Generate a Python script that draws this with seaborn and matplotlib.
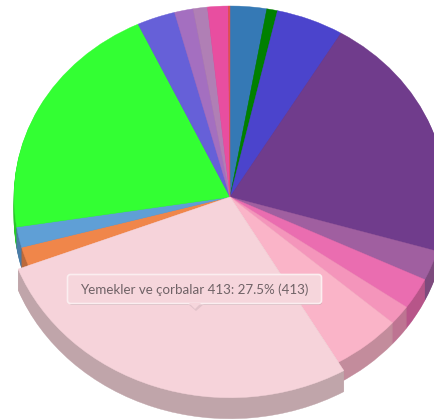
import numpy as np
import matplotlib
matplotlib.use('Agg')
from matplotlib import pyplot as plt
from matplotlib.patches import FancyBboxPatch, Polygon
import seaborn as sns

# slice counts, clockwise from the top of the pie
labels = ['Mavi', 'Yesil', 'Indigo', 'Mor', 'Leylak', 'Pembe', 'Acik pembe', 'Toz pembe',
          'Yemekler ve çorbalar', 'Turuncu', 'Acik mavi', 'Parlak yesil', 'Lacivert',
          'Eflatun', 'Gul', 'Fusya', 'Kirmizi']
values = [41, 12, 76, 315, 38, 40, 25, 78, 413, 24, 26, 308, 43, 21, 16, 23, 2]
colors = ['#3579b5', '#008000', '#4b44cc', '#703c8c', '#a05fa0', '#ea6db0', '#f495bb', '#fab4c8',
          '#f6d3da', '#f0864a', '#5f9fd6', '#33ff33', '#6660d8', '#a46fc0', '#b07fb5', '#e84ea0', '#e05050']
tooltip = 'Yemekler ve çorbalar 413: 27.5% (413)'
hover = labels.index('Yemekler ve çorbalar')

W, H = 434, 419
cx, cy = 230, 197
rx, ry = 216, 191
hover_r = 227
depth = 21
squash = rx / ry  # y data units per pixel, makes the round pie an ellipse

sns.set_theme(style='white')
plt.rcParams['font.family'] = ['Lato', 'DejaVu Sans']

palette = sns.color_palette(colors)
dark = [tuple(np.array(c) * 0.78) for c in palette]


def draw_pie(ax, cols, radius, drop=0):
    wedges = ax.pie(values, colors=cols, radius=radius, startangle=90, counterclock=False,
                    center=(cx, (H - cy - drop) * squash))[0]
    # thin edge in the slice colour hides the seams between wedges
    for w, c in zip(wedges, cols):
        w.set_edgecolor(c)
        w.set_linewidth(0.3)


fig = plt.figure(figsize=(W / 100, H / 100), dpi=100, facecolor='white')
ax = fig.add_axes([0, 0, 1, 1])

# side wall first, one layer per pixel of depth
for drop in range(depth, 0, -1):
    draw_pie(ax, dark, rx, drop)
draw_pie(ax, palette, rx)

# the hovered slice is larger and sits on top
only_dark = [c if i == hover else 'none' for i, c in enumerate(dark)]
only_top = [c if i == hover else 'none' for i, c in enumerate(palette)]
for drop in range(depth, 0, -1):
    draw_pie(ax, only_dark, hover_r, drop)
draw_pie(ax, only_top, hover_r)

ax.set_aspect('auto')
ax.set_xlim(0, W)
ax.set_ylim(0, H * squash)
ax.axis('off')

# tooltip, in pixel coordinates
ov = fig.add_axes([0, 0, 1, 1], facecolor='none')
ov.set_xlim(0, W)
ov.set_ylim(H, 0)
ov.axis('off')
ov.add_patch(FancyBboxPatch((69, 277), 253, 28, boxstyle='round,pad=0,rounding_size=3',
                            fc='#b09a9f', ec='none', alpha=0.5))
ov.add_patch(Polygon([(188, 304), (196, 311), (204, 304)], fc='#e2c3ca', ec='none'))
ov.add_patch(FancyBboxPatch((67.5, 274.5), 254, 29, boxstyle='round,pad=0,rounding_size=3',
                            fc='#f6d6dc', ec='#fbeef0', lw=1.2))
ov.add_patch(Polygon([(189, 303), (195, 309), (201, 303)], fc='#f6d6dc', ec='none'))
ov.text(80, 290, tooltip, fontsize=9.6, color='#6f6266', va='center', ha='left')

fig.savefig('out.png', dpi=100)
